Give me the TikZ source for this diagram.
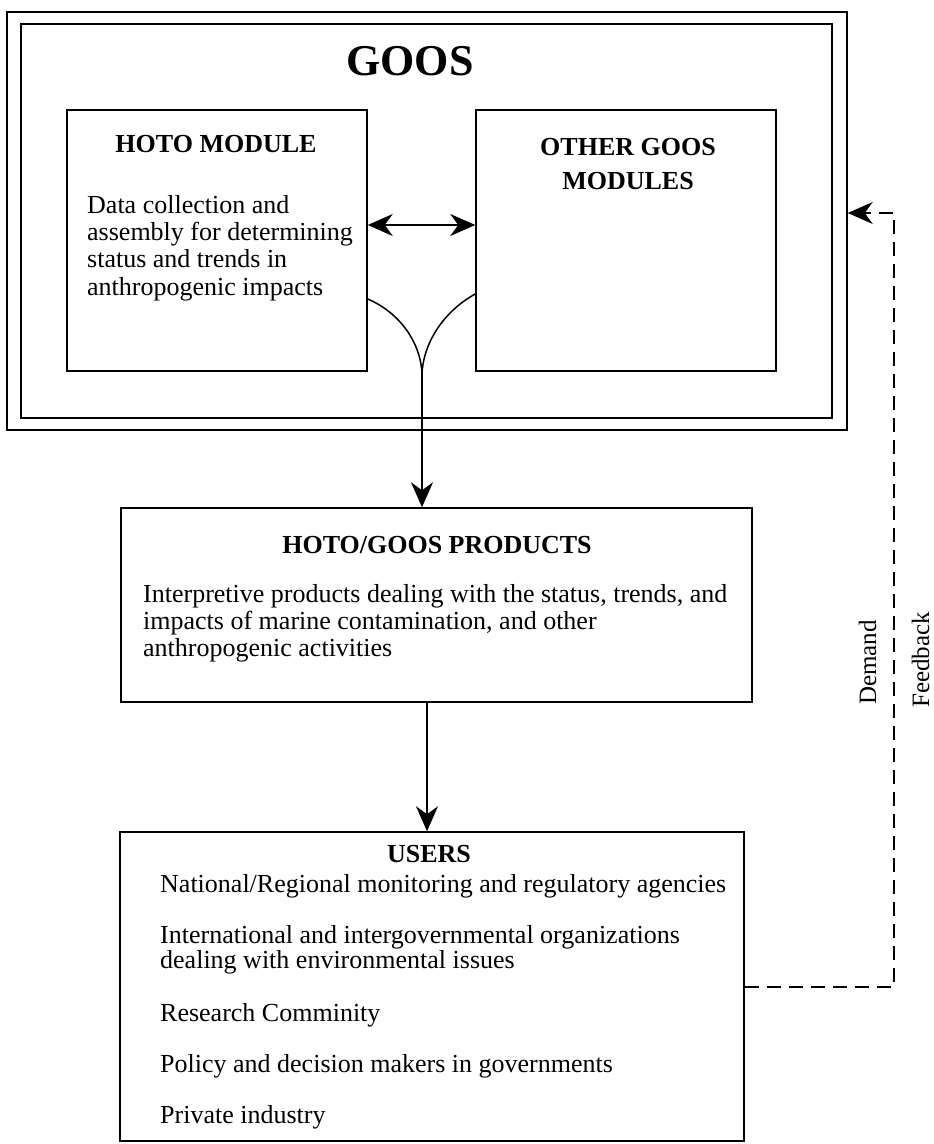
\documentclass[tikz,border=0pt]{standalone}
\usepackage{fontspec}
\setmainfont{Liberation Serif}
\usetikzlibrary{arrows.meta}
\tikzset{
  boxnode/.style={draw, line width=1.5pt, rectangle, inner sep=0pt},
  body/.style={inner sep=0pt, anchor=base west, font=\fontsize{26}{28}\selectfont},
  ttl/.style={inner sep=0pt, anchor=base, font=\fontsize{26}{28}\selectfont\bfseries},
  side/.style={inner sep=0pt, rotate=90, anchor=base west, font=\fontsize{25}{27}\selectfont},
  conn/.style={line width=1.5pt},
  tip/.style={-{Stealth[length=25pt,width=22pt,inset=8pt]}},
}
\begin{document}
\begin{tikzpicture}[x=1pt,y=-1pt]
\useasboundingbox (0,0) rectangle (934,1144);
% GOOS frame
\node[boxnode, minimum width=840pt, minimum height=418pt] (outer) at (427,221) {};
\node[boxnode, minimum width=811pt, minimum height=394pt] (inner) at (426.5,221) {};
\node[inner sep=0pt, anchor=base, font=\fontsize{44}{46}\selectfont\bfseries] (goos) at (410,75) {GOOS};
% modules
\node[boxnode, minimum width=300pt, minimum height=261pt] (hoto) at (217,240.5) {};
\node[boxnode, minimum width=300pt, minimum height=261pt] (other) at (626,240.5) {};
\node[ttl] (hotot) at (216,152) {HOTO MODULE};
\node[body] (h1) at (87,213) {Data collection and};
\node[body] (h2) at (87,240) {assembly for determining};
\node[body] (h3) at (87,267) {status and trends in};
\node[body] (h4) at (87,295) {anthropogenic impacts};
\node[ttl] (othert1) at (628,155) {OTHER GOOS};
\node[ttl] (othert2) at (628,189) {MODULES};
% products
\node[boxnode, minimum width=631pt, minimum height=194pt] (prod) at (436.5,605) {};
\node[ttl] (prodt) at (437,553) {HOTO/GOOS PRODUCTS};
\node[body] (p1) at (143,602) {Interpretive products dealing with the status, trends, and};
\node[body] (p2) at (143,629) {impacts of marine contamination, and other};
\node[body] (p3) at (143,656) {anthropogenic activities};
% users
\node[boxnode, minimum width=624pt, minimum height=309pt] (users) at (432,986.5) {};
\node[ttl] (userst) at (429,862) {USERS};
\node[body] (u1) at (160,892) {National/Regional monitoring and regulatory agencies};
\node[body] (u2) at (160,943) {International and intergovernmental organizations};
\node[body] (u3) at (160,968) {dealing with environmental issues};
\node[body] (u4) at (160,1021) {Research Comminity};
\node[body] (u5) at (160,1072) {Policy and decision makers in governments};
\node[body] (u6) at (160,1123) {Private industry};
% side labels
\node[side] (demand) at (876,705) {Demand};
\node[side] (feedback) at (929,708) {Feedback};
% connectors
\coordinate (dy) at (0,225);
\draw[conn, {Stealth[length=25pt,width=22pt,inset=8pt]}-{Stealth[length=25pt,width=22pt,inset=8pt]}] (hoto.east |- dy) -- (other.west |- dy);
\coordinate (m) at (422,373);
\coordinate (c1) at (0,299);
\coordinate (c2) at (0,294);
\draw[conn] (hoto.east |- c1) .. controls (398,312) and (420,340) .. (m);
\draw[conn] (other.west |- c2) .. controls (446,310) and (424,340) .. (m);
\draw[conn, tip] (m) -- (m |- prod.north);
\coordinate (a2) at (427,0);
\draw[conn, tip] (prod.south -| a2) -- (users.north -| a2);
\coordinate (fl) at (0,987);
\coordinate (fb) at (894,213);
\draw[conn, dash pattern=on 14pt off 8pt, tip] (users.east |- fl) -| (fb) -- (outer.east |- fb);
\end{tikzpicture}
\end{document}
